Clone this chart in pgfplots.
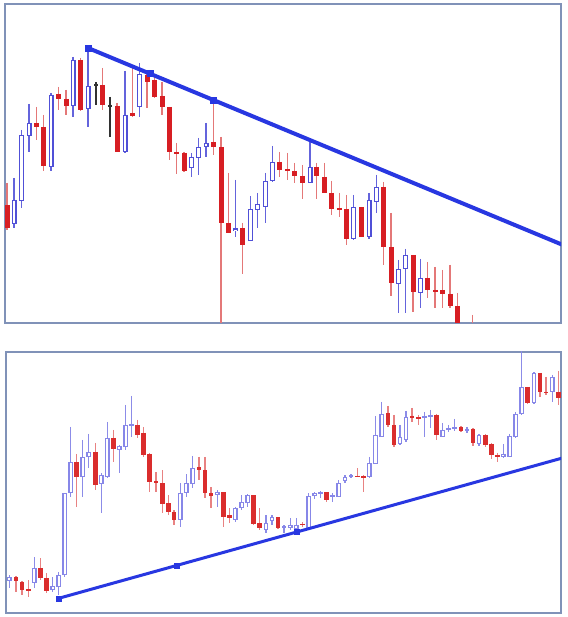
\documentclass[border=0pt]{standalone}
\usepackage{pgfplots}
\pgfplotsset{compat=1.18}
\usepackage{pgfplotstable}
\definecolor{frameC}{RGB}{128,146,184}
\definecolor{trendC}{RGB}{40,55,225}
\definecolor{blueT}{RGB}{80,80,215}
\definecolor{blueTw}{RGB}{100,100,220}
\definecolor{redT}{RGB}{215,30,35}
\definecolor{redTw}{RGB}{228,120,120}
\definecolor{blackT}{RGB}{50,50,50}
\definecolor{blueB}{RGB}{135,135,232}
\definecolor{blueBw}{RGB}{140,140,232}
\definecolor{redB}{RGB}{218,45,45}
\definecolor{redBw}{RGB}{232,130,130}

% columns: x, wick top, wick bottom, body top, body bottom (pixel rows)
\pgfplotstableread{
x wt wb bt bb
14 178 228 200 224
21.7 130 208 135 201
29 104 152 123 136
51 93 171 95 167
73 57 117 60 106
88 47 127 86 109
125 71 153 115 152
139.3 63 117 74 107
191.3 153 177 157 168
198.7 138 175 147 158
206 123 157 143 147
235.7 180 237 228.5 231
250.3 196 241 209 241
257.7 193 228 204 210
265.3 173 223 181 207
272.3 146 182 162 181
310 142 183 167 183
353.7 195 240 207 239
369 193 239 200 237
376.7 175 213 187 202
398.3 260 313 269 284
405.7 249 313 255 269
420.3 259 308 278 293
}\topblue
\pgfplotstableread{
x wt wb bt bb
7 183 230 205 228
36.7 107 140 123 127
43.7 115 171 127 166
58.7 87 110 94 99
66 90 115 99 106
80.7 58 111 60 110
102.7 68 110 85 105
117 103 152 106 152
132.3 68 117 113 116
147 70 108 75 82
154.3 76 98 80 97
162 82 115 96 107
169.3 107 160 107 152
176.7 143 174 152 154
184 152 172 153 171
213.3 100 155 142 147
221 137 330 147 223
228.3 173 233 223 233
242.7 223 274 228 245
279.7 152 177 162 170
287.3 153 180 169 171
294.7 163 183 171 176
302.3 165 199 176 183
316.7 163 199 167 176
324.3 163 193 177 193
331.7 181 215 193 209
339.3 193 217 208 210
346.3 195 245 209 239
361.3 207 237 207 237
383.3 182 265 187 247
391 213 296 247 283
413 255 312 255 292
427.7 262 298 278 290
435 267 308 290 292
442.3 270 308 290 294
450 265 308 294 306
457.3 293 330 306 330
472.3 315 340 330 340
}\topred
\pgfplotstableread{
x wt wb bt bb
96 82 105 84 86
110 97 137 105 107
}\topblack

\pgfplotstableread{
x wt wb bt bb
9.3 575 588 577 581
34.3 557 588 568 583
52.7 577 592 586 590
58.7 572 595 575 587
64.7 493 577 493 575
70.7 427 497 462 493
82.7 440 497 457 477
88.7 434 468 452 457
101.3 473 513 475 484
107.3 422 478 438 477
119.3 445 473 446 450
125.7 405 450 425 447
131.7 396 437 424 426
180.3 483 527 493 520
186.3 474 497 483 493
192.7 456 488 468 484
217.3 490 507 492 495
235.3 507 522 508 520
241.7 495 510 502 508
247.7 494 507 495 503
266 515 533 523 530
272 515 525 517 521
284 525 533 526 528
290.3 518 530 525 528
296.3 518 532 525 529
308.7 493 528 496 528
314.7 492 499 493 496
320.7 491 498 492 494
332.7 493 502 495 497
338.7 480 497 483 497
345 475 483 477 481
351 474 478 475 477
369.3 457 478 463 477
375.5 416 464 435 464
381.7 402 437 414 437
400 425 445 437 444
406 411 442 417 440
424.3 412 437 416 418
430.3 410 428 415 417
442.7 423 437 430 437
448.7 425 432 428 430
454.7 419 431 427 429
467 427 433 429 431
479 434 446 435 444
503.3 444 458 454 457
509.7 434 457 436 457
515.7 412 438 414 437
521.7 345 415 387 414
534 372 404 373 403
552.3 375 402 377 392
}\botblue
\pgfplotstableread{
x wt wb bt bb
16 576 592 577 581
22 581 595 582 590
28.3 580 597 589 591
40.3 558 580 568 578
46.7 573 593 578 591
76.7 454 507 462 477
95.3 443 490 452 485
113.3 430 462 438 449
137.7 420 438 425 435
143.7 427 457 433 455
149.7 453 492 454 482
156 472 492 481 483
162.3 470 513 483 504
168.3 495 515 503 512
174 510 525 512 520
199 457 480 467 470
205 457 498 470 493
211 487 508 493 496
223.3 492 527 492 517
229.3 508 523 515 518
253.3 495 525 495 524
259.7 508 530 523 528
278 517 529 517 528
302.7 522 527 523.5 525
326.7 492 502 492 500
357.3 468 477 475.5 477
363.3 475 492 476 477.5
388 406 427 413 425
394 415 447 425 445
412 408 422 416 418
418.3 415 425 417 419
436.7 414 440 415 435
461 426 432 427 431
473 428 446 429 443
485.3 434 447 435 445
491.3 443 459 444 455
497.3 453 462 455 457
527.7 387 404 387 403
540 373 397 373 392
546 377 395 392 393.5
558.7 371 405 392 398
}\botred

% #1 table, #2 wick colour, #3 body colour, #4 body width
\newcommand\wicks[2]{%
  \addplot[draw=none, forget plot,
    error bars/y dir=plus, error bars/y explicit, error bars/error mark=none,
    error bars/error bar style={draw=#2, line width=1.3pt}]
    table[x=x, y=wt, y error plus expr=\thisrow{wb}-\thisrow{wt}] {#1};}
\newcommand\bodies[3]{%
  \addplot[draw=none, forget plot,
    error bars/y dir=plus, error bars/y explicit, error bars/error mark=none,
    error bars/error bar style={draw=#2, line width=#3}]
    table[x=x, y=bt, y error plus expr={max(\thisrow{bb}-\thisrow{bt},1.2)}] {#1};}
\newcommand\holes[2]{%
  \addplot[draw=none, forget plot,
    error bars/y dir=plus, error bars/y explicit, error bars/error mark=none,
    error bars/error bar style={draw=white, line width=#2}]
    table[x=x, y expr=\thisrow{bt}+1.2, y error plus expr={max(\thisrow{bb}-\thisrow{bt}-2.4,0)}] {#1};}

\pgfplotsset{panel/.style={scale only axis, y dir=reverse,
  xtick=\empty, ytick=\empty, axis line style={draw=frameC, line width=1.3pt},
  clip=true}}

\begin{document}
\begin{tikzpicture}
\fill[white] (0pt,0pt) rectangle (567pt,617pt);
\path[use as bounding box] (0pt,0pt) rectangle (567pt,617pt);

\begin{axis}[panel, at={(5pt,613pt)}, anchor=north west,
  width=556pt, height=319pt, xmin=5, xmax=561, ymin=4, ymax=323]
\wicks{\topblue}{blueTw}
\wicks{\topred}{redTw}
\wicks{\topblack}{blackT}
\bodies{\topblue}{blueT}{5pt}
\holes{\topblue}{2.6pt}
\bodies{\topred}{redT}{5pt}
\bodies{\topblack}{blackT}{4pt}
\addplot[trendC, line width=4pt, forget plot] coordinates {(88,48) (575,250)};
\addplot[only marks, mark=square*, mark size=3pt, trendC, forget plot]
  coordinates {(88,48) (150,73.7) (213,100)};
\end{axis}

\begin{axis}[panel, at={(6pt,265pt)}, anchor=north west,
  width=555pt, height=261pt, xmin=6, xmax=561, ymin=352, ymax=613]
\wicks{\botblue}{blueBw}
\wicks{\botred}{redBw}
\bodies{\botblue}{blueB}{4.6pt}
\holes{\botblue}{2.2pt}
\bodies{\botred}{redB}{4.6pt}
\addplot[trendC, line width=3pt, forget plot] coordinates {(58.7,598.3) (575,454.5)};
\addplot[only marks, mark=square*, mark size=2.6pt, trendC, forget plot]
  coordinates {(58.7,598.3) (176.7,565.4) (296.5,531.9)};
\end{axis}
\end{tikzpicture}
\end{document}
